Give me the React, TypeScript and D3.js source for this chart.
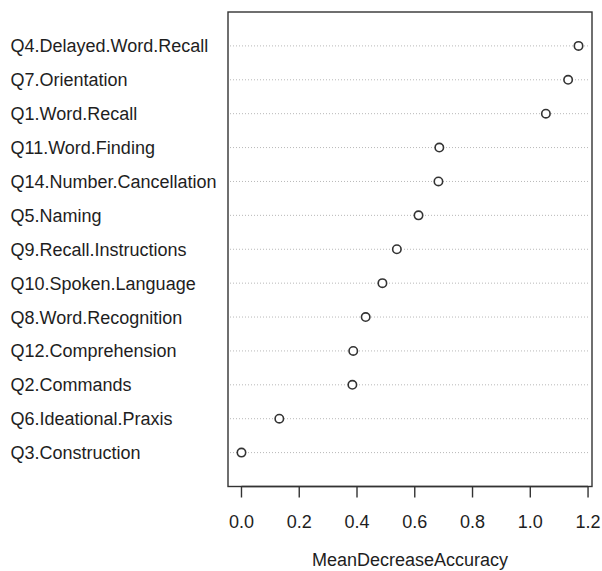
import React from "react";
import * as d3 from "d3";

// Variable importance (mean decrease in accuracy), top to bottom
const variables = [
  "Q4.Delayed.Word.Recall",
  "Q7.Orientation",
  "Q1.Word.Recall",
  "Q11.Word.Finding",
  "Q14.Number.Cancellation",
  "Q5.Naming",
  "Q9.Recall.Instructions",
  "Q10.Spoken.Language",
  "Q8.Word.Recognition",
  "Q12.Comprehension",
  "Q2.Commands",
  "Q6.Ideational.Praxis",
  "Q3.Construction",
];
const importance = [
  1.167, 1.131, 1.054, 0.685, 0.682, 0.613, 0.538, 0.488, 0.43, 0.387, 0.384,
  0.131, 0.0,
];
const xTicks = [0, 0.2, 0.4, 0.6, 0.8, 1.0, 1.2];
const xTitle = "MeanDecreaseAccuracy";

const W = 602;
const H = 571;
const box = { left: 228, right: 592, top: 12, bottom: 486.5 };
const FONT = "'Liberation Sans', Arial, Helvetica, sans-serif";
const FS = 18;

export default function App() {
  const lo = d3.min(importance)!;
  const hi = d3.max(importance)!;
  const pad = (hi - lo) * 0.04;
  const x = d3
    .scaleLinear()
    .domain([lo - pad, hi + pad])
    .range([box.left, box.right]);
  const n = variables.length;
  // row index 1 at the bottom, n at the top, with a spare slot on each side
  const y = d3
    .scaleLinear()
    .domain([0, n + 1])
    .range([box.bottom, box.top]);
  const rowY = (i: number) => y(n - i);

  return (
    <svg
      width={W}
      height={H}
      style={{ position: "absolute", left: 0, top: 0, background: "#fff" }}
      fontFamily={FONT}
    >
      {variables.map((v, i) => (
        <g key={v}>
          <line
            x1={box.left + 2}
            x2={box.right - 2}
            y1={rowY(i)}
            y2={rowY(i)}
            stroke="#b8b8b8"
            strokeWidth={1}
            strokeDasharray="1,2"
          />
          <text x={10.5} y={rowY(i)} dy="0.36em" fontSize={FS} fill="#1e1e1e">
            {v}
          </text>
        </g>
      ))}
      {importance.map((val, i) => (
        <circle
          key={variables[i]}
          cx={x(val)}
          cy={rowY(i)}
          r={4.2}
          fill="#fff"
          stroke="#333"
          strokeWidth={1.6}
        />
      ))}
      <rect
        x={box.left}
        y={box.top}
        width={box.right - box.left}
        height={box.bottom - box.top}
        fill="none"
        stroke="#333"
        strokeWidth={1.4}
      />
      {xTicks.map((t) => (
        <g key={t}>
          <line
            x1={x(t)}
            x2={x(t)}
            y1={box.bottom}
            y2={box.bottom + 11}
            stroke="#333"
            strokeWidth={1.4}
          />
          <text
            x={x(t)}
            y={528}
            textAnchor="middle"
            fontSize={FS}
            fill="#1e1e1e"
          >
            {t.toFixed(1)}
          </text>
        </g>
      ))}
      <line
        x1={x(xTicks[0])}
        x2={x(xTicks[xTicks.length - 1])}
        y1={box.bottom}
        y2={box.bottom}
        stroke="#333"
        strokeWidth={1.4}
      />
      <text
        x={(box.left + box.right) / 2}
        y={566}
        textAnchor="middle"
        fontSize={FS}
        fill="#1e1e1e"
      >
        {xTitle}
      </text>
    </svg>
  );
}
